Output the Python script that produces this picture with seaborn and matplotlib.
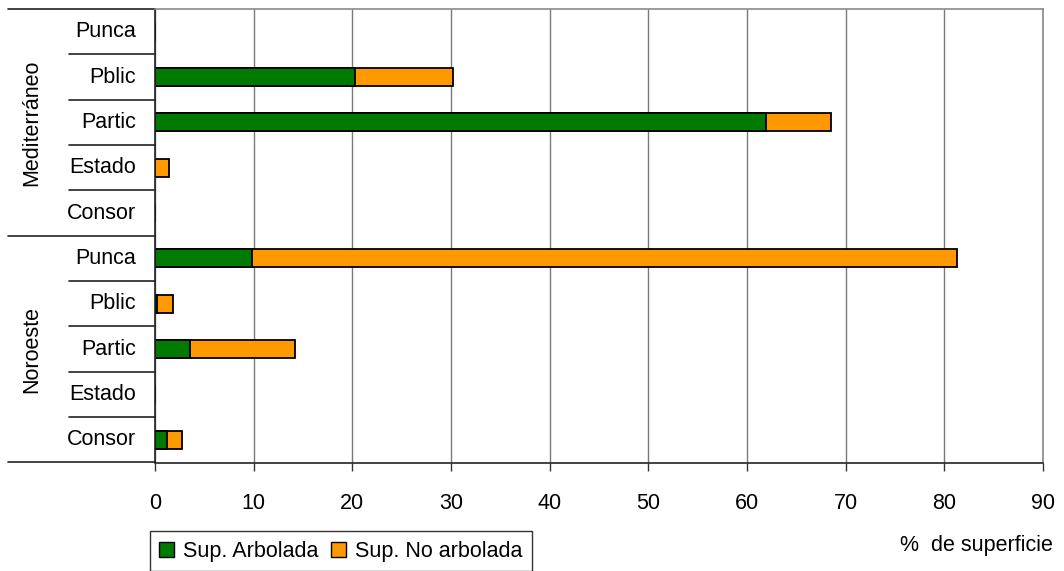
import pandas as pd
import seaborn as sns
import matplotlib.pyplot as plt
from matplotlib.patches import Patch
import matplotlib.transforms as mtransforms

# data (% de superficie)
groups = ["Mediterráneo", "Noroeste"]
categories = ["Punca", "Pblic", "Partic", "Estado", "Consor"]
arbolada = [0.0, 20.3, 61.9, 0.0, 0.0,
            9.8, 0.2, 3.5, 0.0, 1.2]
no_arbolada = [0.0, 9.9, 6.6, 1.45, 0.0,
               71.5, 1.65, 10.7, 0.0, 1.5]

GREEN = "#007A00"
ORANGE = "#FF9900"

keys = [f"{g}|{c}" for g in groups for c in categories]
df = pd.DataFrame({
    "key": keys,
    "arbolada": arbolada,
    "total": [a + b for a, b in zip(arbolada, no_arbolada)],
})

sns.set_theme(style="white")
plt.rcParams["font.family"] = ["Liberation Sans Narrow", "Liberation Sans", "DejaVu Sans"]
plt.rcParams["font.size"] = 16
plt.rcParams["text.color"] = "black"
plt.rcParams["xtick.color"] = "black"
plt.rcParams["xtick.labelcolor"] = "black"

FS = 15.5

fig = plt.figure(figsize=(10.64, 5.71), dpi=100)
ax = fig.add_axes([155 / 1064, 1 - 462.5 / 571, 888 / 1064, 453.5 / 571])

sns.barplot(data=df, x="total", y="key", order=keys, orient="h", color=ORANGE,
            saturation=1, width=0.4, edgecolor="black", linewidth=1.3, ax=ax)
sns.barplot(data=df, x="arbolada", y="key", order=keys, orient="h", color=GREEN,
            saturation=1, width=0.4, edgecolor="black", linewidth=1.3, ax=ax)

ax.set_xlim(0, 90)
ax.set_ylim(len(keys) - 0.5, -0.5)
ax.set_xticks(range(0, 91, 10))
ax.set_yticks([])
ax.set_xlabel("")
ax.set_ylabel("")
ax.grid(axis="x", color="#7a7a7a", linewidth=1)
ax.set_axisbelow(True)
ax.tick_params(axis="x", direction="out", length=6, width=1, color="#333333",
               pad=16, labelsize=FS, labelcolor="black", bottom=True)
for side in ["left", "bottom"]:
    ax.spines[side].set_color("#222222")
    ax.spines[side].set_linewidth(1.2)
for side in ["top", "right"]:
    ax.spines[side].set_color("#8a8a8a")
    ax.spines[side].set_linewidth(1.2)

# multi-level category axis
trans = mtransforms.blended_transform_factory(ax.transAxes, ax.transData)
for i, k in enumerate(keys):
    ax.text(-19 / 888, i, k.split("|")[1], transform=trans, ha="right", va="center",
            fontsize=FS, color="black")
for i in range(len(keys) + 1):
    y = i - 0.5
    x0 = -147 / 888 if i % len(categories) == 0 else -86 / 888
    ax.plot([x0, 0], [y, y], transform=trans, color="#222222", lw=1.2, clip_on=False)
for gi, g in enumerate(groups):
    yc = gi * len(categories) + (len(categories) - 1) / 2
    ax.text(-123 / 888, yc, g, transform=trans, rotation=90, ha="center", va="center",
            fontsize=FS, color="black")

fig.text(1053 / 1064, 1 - 545 / 571, "%  de superficie", ha="right", va="center",
         fontsize=FS, color="black")

handles = [Patch(facecolor=GREEN, edgecolor="black", label="Sup. Arbolada"),
           Patch(facecolor=ORANGE, edgecolor="black", label="Sup. No arbolada")]
leg = fig.legend(handles=handles, loc="upper left", bbox_to_anchor=(149.5 / 1064, 1 - 531 / 571),
                 ncol=2, frameon=True, fancybox=False, fontsize=FS, handlelength=0.7,
                 handleheight=0.7, handletextpad=0.4, columnspacing=0.6, borderpad=0.45,
                 borderaxespad=0)
leg.get_frame().set_edgecolor("black")
leg.get_frame().set_linewidth(1)
for t in leg.get_texts():
    t.set_color("black")

fig.savefig("out.png", dpi=100)
plt.close(fig)
